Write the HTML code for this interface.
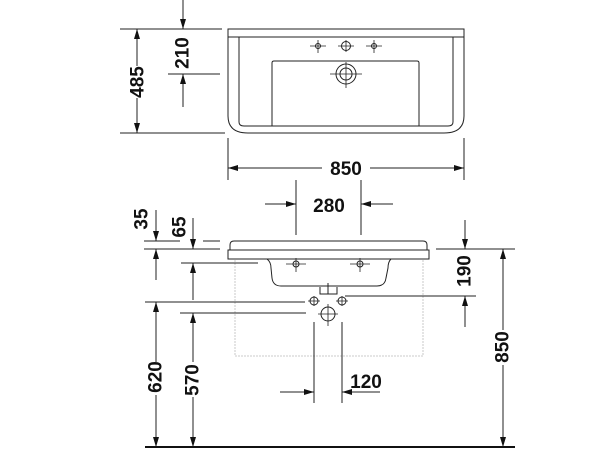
<!DOCTYPE html>
<html><head><meta charset="utf-8"><style>
html,body{margin:0;padding:0;background:#fff;width:600px;height:450px;overflow:hidden}
svg text{font-family:"Liberation Sans Narrow","Liberation Sans",sans-serif;font-weight:bold;font-size:19px;fill:#111}
</style></head><body>
<svg width="600" height="450" viewBox="0 0 600 450" xmlns="http://www.w3.org/2000/svg">
<defs>
<marker id="a" viewBox="0 0 10 6" refX="10" refY="3" markerWidth="10" markerHeight="6" markerUnits="userSpaceOnUse" orient="auto"><path d="M0,0 L10,3 L0,6 Z" fill="#111"/></marker>
</defs>
<g stroke="#222" stroke-width="1" fill="none">
<!-- TOP VIEW -->
<path d="M228,29 H464 V37 H228 Z"/>
<path d="M228,37 V116 Q228,133 248,133 H444 Q464,133 464,116 V37"/>
<path d="M239,37 V122 Q239,126 244,126 H448 Q453,126 453,122 V37"/>
<path d="M274,61 H417 Q419,61 419,63 V126 H272 V63 Q272,61 274,61 Z"/>
<circle cx="346" cy="74" r="10"/><circle cx="346" cy="74" r="6"/>
<path d="M330,74 H362 M346,62 V88" stroke-width="0.8"/>
<circle cx="346" cy="46" r="4.5"/><path d="M338,46 H354 M346,40 V52" stroke-width="0.8"/>
<circle cx="318" cy="46" r="2.5"/><path d="M310,46 H326 M318,40 V53" stroke-width="0.8"/>
<circle cx="374" cy="46" r="2.5"/><path d="M366,46 H382 M374,40 V53" stroke-width="0.8"/>
<!-- 485 -->
<path d="M120,29 H222 M120,133 H225"/>
<path d="M137,66 V29" marker-end="url(#a)"/><path d="M137,98 V133" marker-end="url(#a)"/>
<!-- 210 -->
<path d="M183,0 V29" marker-end="url(#a)"/>
<path d="M168,74 H220"/>
<path d="M183,107 V74" marker-end="url(#a)"/>
<!-- 850 top -->
<path d="M228,138 V180 M464,138 V180"/>
<path d="M322,168 H228" marker-end="url(#a)"/><path d="M370,168 H464" marker-end="url(#a)"/>

<!-- FRONT VIEW -->
<rect x="235" y="259" width="188" height="97" stroke="#bbb" stroke-width="0.8" stroke-dasharray="2,1"/>
<path d="M230,250 V245 Q230,241 234,241 H423 Q427,241 427,245 V250"/>
<path d="M228,250 H429 V259 H228 Z"/>
<path d="M267,259 Q271,262 271,268 L272,278 Q273,286 281,286 H377 Q385,286 386,278 L388,268 Q388,262 391,259"/>
<path d="M320,287 V294 H337 V287 M328,283 V294"/>
<path d="M286,264 H306 M296,258 V272" stroke-width="0.8"/><circle cx="296" cy="264" r="3"/>
<path d="M350,264 H370 M360,258 V272" stroke-width="0.8"/><circle cx="360" cy="264" r="3"/>
<circle cx="314" cy="301" r="4"/><path d="M308,301 H320 M314,296 V306" stroke-width="0.8"/>
<circle cx="342" cy="301" r="4"/><path d="M336,301 H348 M342,296 V306" stroke-width="0.8"/>
<circle cx="328" cy="314" r="7"/><path d="M318,314 H338 M328,304 V326" stroke-width="0.8"/>
<!-- 280 -->
<path d="M296,180 V235 M361,180 V235"/>
<path d="M265,204 H296" marker-end="url(#a)"/><path d="M393,204 H361" marker-end="url(#a)"/>
<!-- 35 / 65 -->
<path d="M144,241 H180 M203,241 H220 M144,249 H220"/>
<path d="M156,210 V241" marker-end="url(#a)"/>
<path d="M156,280 V249" marker-end="url(#a)"/>
<path d="M193,218 V249" marker-end="url(#a)"/>
<path d="M181,263 H258"/>
<path d="M193,300 V263" marker-end="url(#a)"/>
<!-- 620 / 570 -->
<path d="M145,302 H305 M180,313 H306"/>
<path d="M156,362 V302" marker-end="url(#a)"/><path d="M156,395 V447" marker-end="url(#a)"/>
<path d="M193,362 V313" marker-end="url(#a)"/><path d="M193,397 V447" marker-end="url(#a)"/>
<!-- 120 -->
<path d="M314,322 V403 M342,322 V403"/>
<path d="M280,392 H314" marker-end="url(#a)"/><path d="M380,392 H342" marker-end="url(#a)"/>
<!-- 190 -->
<path d="M465,220 V249" marker-end="url(#a)"/>
<path d="M345,296 H476"/>
<path d="M465,327 V296" marker-end="url(#a)"/>
<!-- 850 right -->
<path d="M436,249 H515"/>
<path d="M503,330 V249" marker-end="url(#a)"/><path d="M503,365 V447" marker-end="url(#a)"/>
<!-- floor -->
<path d="M145,447 H515" stroke-width="2" stroke="#111"/>
</g>
<text x="346" y="175" text-anchor="middle">850</text>
<text x="329" y="212" text-anchor="middle">280</text>
<text x="366" y="388" text-anchor="middle">120</text>
<g text-anchor="middle" dominant-baseline="central">
<text transform="translate(138,82) rotate(-90)">485</text>
<text transform="translate(183,53) rotate(-90)">210</text>
<text transform="translate(142,219) rotate(-90)">35</text>
<text transform="translate(180,227) rotate(-90)">65</text>
<text transform="translate(156,377) rotate(-90)">620</text>
<text transform="translate(193,380) rotate(-90)">570</text>
<text transform="translate(503,347) rotate(-90)">850</text>
<text transform="translate(465,271) rotate(-90)">190</text>
</g>
</svg>
</body></html>
